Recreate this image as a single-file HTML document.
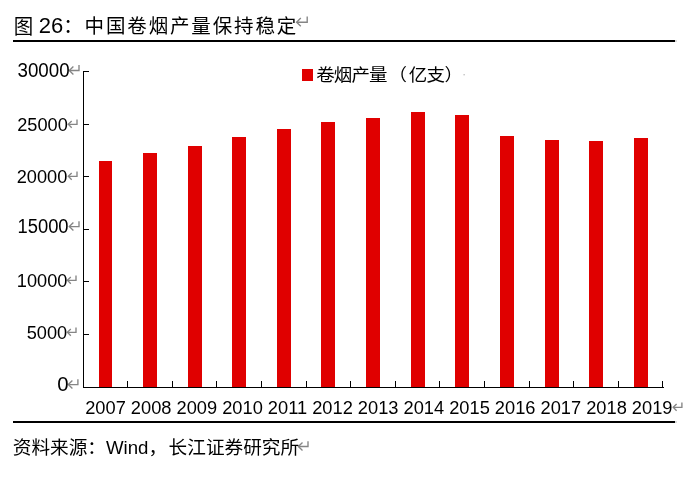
<!DOCTYPE html>
<html lang="zh-CN">
<head>
<meta charset="utf-8">
<title>图 26：中国卷烟产量保持稳定</title>
<style>
html,body{margin:0;padding:0;background:#fff;}
body{width:696px;height:477px;position:relative;overflow:hidden;font-family:"Liberation Sans","Noto Sans CJK SC",sans-serif;color:#000;}
.abs{position:absolute;white-space:nowrap;display:block}
.title{position:absolute;left:0;top:0;width:696px;height:40px}
.t{top:11.4px;font-size:19.5px;line-height:30px;letter-spacing:1.8px}
.tn{top:10.6px;font-size:22px;line-height:30px;}
.rule{position:absolute;left:13px;width:662.3px;background:#000;}
.yl{position:absolute;left:0;font-size:18.2px;line-height:20px;height:20px;text-align:right;white-space:nowrap;transform-origin:100% 52%}
.xl{left:85.2px;top:396.8px;font-size:18.25px;line-height:22px;}
.legend{left:316.2px;top:62.6px;font-size:18.5px;letter-spacing:-0.9px;line-height:24px;transform:scaleY(0.93);transform-origin:0 50%}
.src{left:12.8px;top:435.2px;font-size:18.65px;line-height:26px;}
svg{position:absolute;left:0;top:0;}
</style>
</head>
<body>
<div class="title"><span class="abs t" style="left:13.8px;margin-top:0.2px;transform:scaleY(1.05);transform-origin:50% 80%">图 </span><span class="abs tn" style="left:38.7px">26</span><span class="abs t" style="left:63.2px">：</span><span class="abs t" style="left:84.6px;letter-spacing:1.85px">中国卷烟产量保持稳定</span></div>
<div class="rule" style="top:40px;height:2px"></div><div class="rule" style="top:40px;height:2px;left:675.3px;width:1.7px;background:#dcdcdc"></div>
<svg width="696" height="477" viewBox="0 0 696 477">
<g shape-rendering="crispEdges">
<rect x="99" y="161" width="13" height="226" fill="#e00000"/>
<rect x="143" y="153" width="14" height="234" fill="#e00000"/>
<rect x="188" y="146" width="14" height="241" fill="#e00000"/>
<rect x="232" y="137" width="14" height="250" fill="#e00000"/>
<rect x="277" y="129" width="14" height="258" fill="#e00000"/>
<rect x="321" y="122" width="14" height="265" fill="#e00000"/>
<rect x="366" y="118" width="14" height="269" fill="#e00000"/>
<rect x="411" y="112" width="14" height="275" fill="#e00000"/>
<rect x="455" y="115" width="14" height="272" fill="#e00000"/>
<rect x="500" y="136" width="14" height="251" fill="#e00000"/>
<rect x="545" y="140" width="14" height="247" fill="#e00000"/>
<rect x="589" y="141" width="14" height="246" fill="#e00000"/>
<rect x="634" y="138" width="14" height="249" fill="#e00000"/>
<rect x="83" y="71" width="1" height="317" fill="#000"/>
<rect x="83" y="387" width="581" height="1" fill="#000"/>
<rect x="84" y="71" width="5" height="1" fill="#000"/>
<rect x="84" y="124" width="5" height="1" fill="#000"/>
<rect x="84" y="176" width="5" height="1" fill="#000"/>
<rect x="84" y="229" width="5" height="1" fill="#000"/>
<rect x="84" y="281" width="5" height="1" fill="#000"/>
<rect x="84" y="334" width="5" height="1" fill="#000"/>
<rect x="127" y="381" width="1" height="6" fill="#000"/>
<rect x="172" y="381" width="1" height="6" fill="#000"/>
<rect x="216" y="381" width="1" height="6" fill="#000"/>
<rect x="261" y="381" width="1" height="6" fill="#000"/>
<rect x="306" y="381" width="1" height="6" fill="#000"/>
<rect x="350" y="381" width="1" height="6" fill="#000"/>
<rect x="395" y="381" width="1" height="6" fill="#000"/>
<rect x="439" y="381" width="1" height="6" fill="#000"/>
<rect x="484" y="381" width="1" height="6" fill="#000"/>
<rect x="529" y="381" width="1" height="6" fill="#000"/>
<rect x="573" y="381" width="1" height="6" fill="#000"/>
<rect x="618" y="381" width="1" height="6" fill="#000"/>
<rect x="662" y="381" width="1" height="6" fill="#000"/>
</g>
<rect x="302" y="69" width="11" height="12" fill="#e00000" shape-rendering="crispEdges"/>
<rect x="463.6" y="74" width="1" height="1.4" fill="#aaa"/>
<g fill="none" stroke="#858585" stroke-width="1.35"><polyline points="307.2,16.6 307.2,22.2 296.7,22.2"/><polyline points="300.8,18.1 296.6,22.2 300.8,26.3"/></g>
<g fill="none" stroke="#858585" stroke-width="1.35"><polyline points="79.0,65.1 79.0,70.5 69.4,70.5"/><polyline points="73.4,66.5 69.3,70.5 73.4,74.5"/></g>
<g fill="none" stroke="#858585" stroke-width="1.35"><polyline points="77.0,119.6 77.0,124.3 68.4,124.3"/><polyline points="71.7,120.9 68.3,124.3 71.7,127.7"/></g>
<g fill="none" stroke="#858585" stroke-width="1.35"><polyline points="77.0,171.6 77.0,176.3 68.4,176.3"/><polyline points="71.7,172.9 68.3,176.3 71.7,179.7"/></g>
<g fill="none" stroke="#858585" stroke-width="1.35"><polyline points="79.0,221.2 79.0,226.6 69.4,226.6"/><polyline points="73.4,222.6 69.3,226.6 73.4,230.6"/></g>
<g fill="none" stroke="#858585" stroke-width="1.35"><polyline points="76.0,275.6 76.0,280.3 67.5,280.3"/><polyline points="70.8,276.9 67.4,280.3 70.8,283.7"/></g>
<g fill="none" stroke="#858585" stroke-width="1.35"><polyline points="76.0,327.6 76.0,332.3 67.5,332.3"/><polyline points="70.8,328.9 67.4,332.3 70.8,335.7"/></g>
<g fill="none" stroke="#858585" stroke-width="1.35"><polyline points="77.9,379.3 77.9,384.6 68.4,384.6"/><polyline points="72.4,380.6 68.3,384.6 72.4,388.6"/></g>
<g fill="none" stroke="#858585" stroke-width="1.35"><polyline points="681.9,402.4 681.9,407.3 673.3,407.3"/><polyline points="676.6,403.9 673.2,407.3 676.6,410.7"/></g>
<g fill="none" stroke="#858585" stroke-width="1.35"><polyline points="308.0,441.2 308.0,446.5 298.5,446.5"/><polyline points="302.5,442.5 298.4,446.5 302.5,450.5"/></g>
</svg>
<div class="yl" style="top:60.20px;width:69.6px;transform:scale(1.03,1.14)">30000</div>
<div class="yl" style="top:114.70px;width:67.8px;transform:scale(1.0,1.0)">25000</div>
<div class="yl" style="top:167.10px;width:67.3px;transform:scale(1.0,1.0)">20000</div>
<div class="yl" style="top:216.20px;width:68.6px;transform:scale(1.01,1.14)">15000</div>
<div class="yl" style="top:270.80px;width:67.4px;transform:scale(1.0,1.0)">10000</div>
<div class="yl" style="top:322.95px;width:67.2px;transform:scale(1.0,1.0)">5000</div>
<div class="yl" style="top:374.10px;width:68.5px;transform:scale(1.12,1.1)">0</div>
<div class="abs legend">卷烟产量<span style="margin-left:2px">（</span><span style="margin-left:2.6px">亿支</span><span style="margin-left:0.5px">）</span></div>
<div class="abs xl">2007 2008 2009 2010 2011 2012 2013 2014 2015 2016 2017 2018 2019</div>
<div class="rule" style="top:421px;height:2px"></div><div class="rule" style="top:421px;height:2px;left:675.3px;width:1.7px;background:#dcdcdc"></div>
<div class="abs src">资料来源：Wind，<span style="margin-left:1.5px">长江证券研究所</span></div>
</body>
</html>
